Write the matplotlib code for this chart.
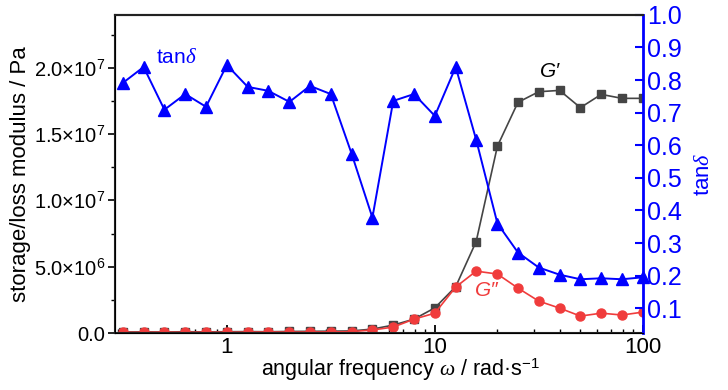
import numpy as np
import matplotlib
matplotlib.use("Agg")
import matplotlib.pyplot as plt
from matplotlib.ticker import FixedLocator, MultipleLocator, NullFormatter

plt.rcParams["font.family"] = ["Liberation Sans", "DejaVu Sans"]
plt.rcParams["mathtext.fontset"] = "custom"
plt.rcParams["mathtext.rm"] = "Liberation Sans"
plt.rcParams["mathtext.it"] = "Liberation Serif:italic"

# ── Data ─────────────────────────────────────────────────────────────────────
freq = [0.316, 0.398, 0.501, 0.631, 0.794, 1.0, 1.26, 1.58, 2.0, 2.51, 3.16,
        3.98, 5.01, 6.31, 7.94, 10.0, 12.6, 15.8, 20.0, 25.1, 31.6, 39.8,
        50.1, 63.1, 79.4, 100.0]
g_storage = [0.8e5, 0.9e5, 0.8e5, 1.0e5, 0.9e5, 1.0e5, 1.1e5, 1.0e5, 1.2e5,
             1.3e5, 1.4e5, 1.6e5, 3.0e5, 6.0e5, 1.05e6, 1.9e6, 3.5e6, 6.9e6,
             1.41e7, 1.74e7, 1.82e7, 1.83e7, 1.70e7, 1.80e7, 1.77e7, 1.77e7]
g_loss = [0.6e5, 0.6e5, 0.7e5, 0.6e5, 0.7e5, 0.6e5, 0.7e5, 0.8e5, 0.7e5,
          0.8e5, 0.9e5, 1.1e5, 2.3e5, 4.5e5, 1.05e6, 1.5e6, 3.47e6, 4.67e6,
          4.45e6, 3.39e6, 2.41e6, 1.88e6, 1.28e6, 1.5e6, 1.36e6, 1.58e6]
tan_delta = [0.791, 0.840, 0.709, 0.757, 0.718, 0.846, 0.779, 0.767, 0.733,
             0.782, 0.757, 0.574, 0.378, 0.736, 0.757, 0.690, 0.840, 0.617,
             0.360, 0.271, 0.225, 0.203, 0.189, 0.192, 0.189, 0.195]

left_ticks = [0.0, 5.0e6, 1.0e7, 1.5e7, 2.0e7]
left_labels = ["0.0", "5.0×10$^{6}$", "1.0×10$^{7}$", "1.5×10$^{7}$", "2.0×10$^{7}$"]
right_ticks = [0.1, 0.2, 0.3, 0.4, 0.5, 0.6, 0.7, 0.8, 0.9, 1.0]
x_ticks = [1, 10, 100]
x_labels = ["1", "10", "100"]

BLUE = "#0000ff"
RED = "#f03c3c"
GREY = "#454545"

fig = plt.figure(figsize=(7.28, 3.9), dpi=100)
ax = fig.add_axes([0.158, 0.146, 0.725, 0.816])
ax2 = ax.twinx()

ax.plot(freq, g_storage, color=GREY, lw=1.2, marker="s", ms=5.5, mec=GREY, mfc=GREY)
ax.plot(freq, g_loss, color=RED, lw=1.2, marker="o", ms=6.5, mec=RED, mfc=RED)
ax2.plot(freq, tan_delta, color=BLUE, lw=1.4, marker="^", ms=8.5, mec=BLUE, mfc=BLUE,
         clip_on=False)

ax.set_xscale("log")
ax.set_xlim(0.29, 100)
ax.set_ylim(0, 2.4e7)
ax2.set_ylim(0.024, 1.0)

ax.yaxis.set_major_locator(FixedLocator(left_ticks))
ax.set_yticklabels(left_labels)
ax.yaxis.set_minor_locator(MultipleLocator(2.5e6))
ax.set_xticks(x_ticks)
ax.set_xticklabels(x_labels)
ax.xaxis.set_minor_formatter(NullFormatter())
ax2.set_yticks(right_ticks)
ax2.set_yticklabels([f"{t:.1f}" for t in right_ticks])

ax.tick_params(axis="y", which="major", direction="out", length=5, width=1.2,
               labelsize=14.5, pad=2)
ax.tick_params(axis="y", which="minor", direction="out", length=3, width=1)
ax.tick_params(axis="x", which="major", direction="in", length=6, width=1.3,
               labelsize=16, pad=3)
ax.tick_params(axis="x", which="minor", direction="in", length=3, width=1)
ax.tick_params(axis="x", which="both", top=False)
ax2.tick_params(axis="y", direction="in", length=6, width=1.5, colors=BLUE,
                labelsize=18, pad=3)

for side in ["left", "bottom", "top"]:
    ax.spines[side].set_linewidth(1.5)
    ax.spines[side].set_color("#222222")
ax2.spines["right"].set_color(BLUE)
ax2.spines["right"].set_linewidth(2)
ax2.spines["top"].set_linewidth(1.5)
ax2.spines["top"].set_color("#222222")
ax.spines["right"].set_visible(False)

ax.set_xlabel(r"angular frequency $\omega$ / rad·s$^{-1}$", fontsize=15.5)
ax.xaxis.set_label_coords(0.54, -0.075)
ax.set_ylabel("storage/loss modulus / Pa", fontsize=16, labelpad=2)
ax2.set_ylabel(r"tan$\delta$", fontsize=16, color=BLUE, labelpad=8)

ax.text(0.117, 0.865, r"tan$\delta$", transform=ax.transAxes, color=BLUE,
        fontsize=15, ha="center", va="center")
ax.text(0.824, 0.821, "G′", transform=ax.transAxes, color="black",
        fontsize=15, style="italic", ha="center", va="center")
ax.text(0.705, 0.135, "G″", transform=ax.transAxes, color=RED,
        fontsize=15, style="italic", ha="center", va="center")

fig.savefig("out.png", dpi=100)
